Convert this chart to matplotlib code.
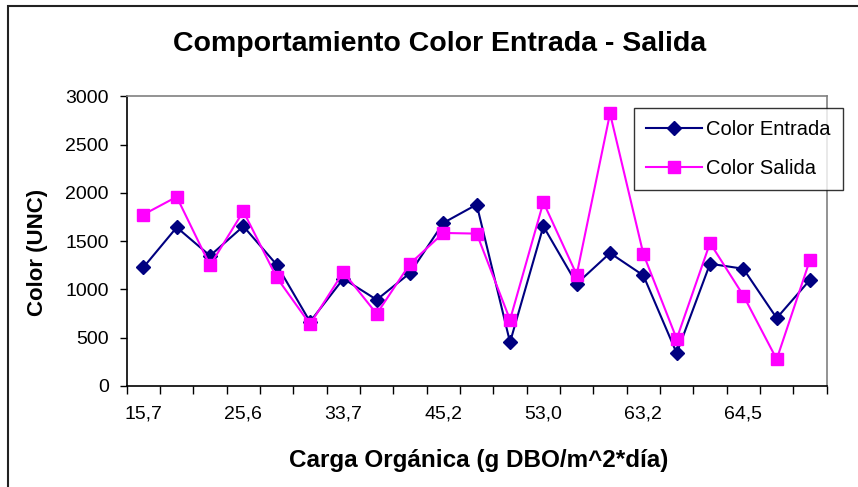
import numpy as np
import matplotlib
matplotlib.use("Agg")
import matplotlib.pyplot as plt
from matplotlib.patches import Rectangle

# --- data ---
tick_labels = ["15,7", "25,6", "33,7", "45,2", "53,0", "63,2", "64,5"]
tick_every = 3

color_entrada = [1228, 1643, 1349, 1654, 1256, 665, 1111, 893, 1170, 1689, 1879,
                 453, 1654, 1059, 1377, 1145, 339, 1266, 1214, 703, 1100]
color_salida = [1775, 1959, 1249, 1809, 1124, 640, 1180, 747, 1266, 1585, 1578,
                685, 1903, 1152, 2823, 1367, 488, 1481, 937, 277, 1308]

plt.rcParams['font.family'] = ['Liberation Sans', 'DejaVu Sans']

W, H = 858, 487
fig = plt.figure(figsize=(W / 100, H / 100), dpi=100)

# outer chart frame (cut off on right/bottom like the screenshot)
fig.patches.append(Rectangle((7.5 / W, -0.1), 1.2, 1 - 6 / H + 0.1, transform=fig.transFigure,
                             fill=False, edgecolor='#222222', linewidth=1.5))

ax = fig.add_axes([126.7 / W, (H - 386) / H, 700 / W, 289.7 / H])

x = np.arange(len(color_entrada))
ax.plot(x, color_entrada, color='#000080', lw=1.5, marker='D', ms=7,
        mfc='#000080', mec='#000080', label='Color Entrada')
ax.plot(x, color_salida, color='#FF00FF', lw=1.5, marker='s', ms=9,
        mfc='#FF00FF', mec='#FF00FF', label='Color Salida')

ax.set_xlim(-0.5, len(x) - 0.5)
ax.set_ylim(0, 3000)
ax.set_yticks(np.arange(0, 3001, 500))

# tick marks between categories, labels under every third category
ax.set_xticks(np.arange(-0.5, len(x), 1.0))
ax.set_xticklabels([])
ax.set_xticks(x[::tick_every], minor=True)
ax.set_xticklabels(tick_labels, minor=True)
ax.tick_params(axis='x', which='major', direction='out', length=6, width=1, color='black')
ax.tick_params(axis='x', which='minor', length=0, pad=14, labelsize=14)
ax.tick_params(axis='y', direction='out', length=5, width=1, pad=8, labelsize=14)

for side in ['left', 'bottom']:
    ax.spines[side].set_color('black')
    ax.spines[side].set_linewidth(1.2)
for side in ['top', 'right']:
    ax.spines[side].set_color('#808080')
    ax.spines[side].set_linewidth(1.2)

fig.text(440 / W, 1 - 51 / H, "Comportamiento Color Entrada - Salida",
         ha='center', va='baseline', fontsize=20.5, fontweight='bold')
fig.text(479 / W, 1 - 467 / H, "Carga Orgánica (g DBO/m^2*día)",
         ha='center', va='baseline', fontsize=17.5, fontweight='bold')
fig.text(38 / W, 1 - 252 / H, "Color (UNC)", rotation=90,
         ha='center', va='center', fontsize=16, fontweight='bold')

leg = ax.legend(loc='upper left', bbox_to_anchor=(634 / W, 1 - 107.7 / H),
                bbox_transform=fig.transFigure, borderaxespad=0, fontsize=14.5,
                frameon=True, fancybox=False, edgecolor='black', handlelength=2.8,
                labelspacing=1.0, handletextpad=0.2, borderpad=0.6)
leg.get_frame().set_linewidth(1.0)

fig.savefig("out.png", dpi=100)
